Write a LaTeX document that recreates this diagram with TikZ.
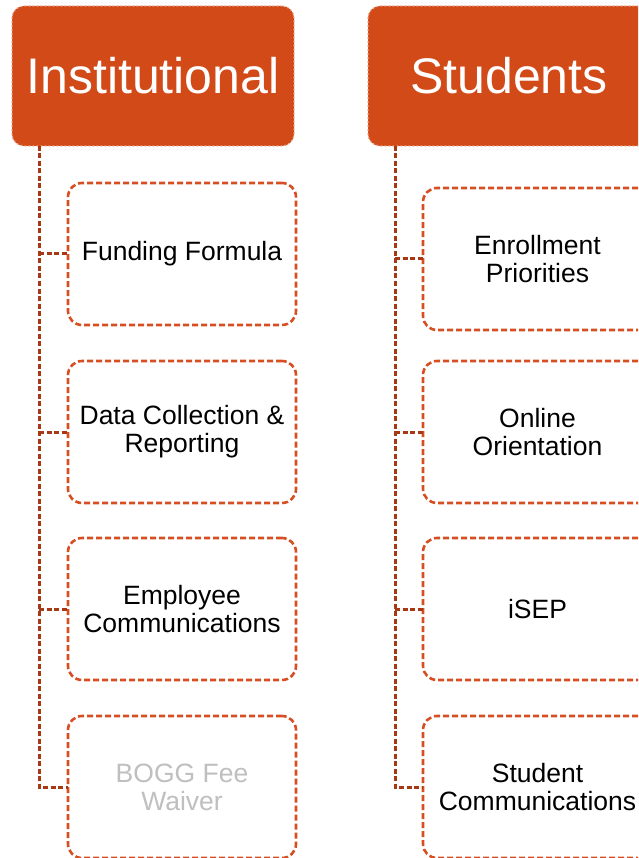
\documentclass[tikz,border=0pt]{standalone}
\usepackage{fontspec}
\setmainfont{Liberation Sans}
\definecolor{hdrfill}{RGB}{210,74,24}
\definecolor{boxline}{RGB}{214,78,34}
\definecolor{connline}{RGB}{168,56,20}
\definecolor{hdrborder}{RGB}{236,170,140}
\definecolor{fadedtext}{RGB}{191,191,191}
\begin{document}
\begin{tikzpicture}[x=1pt,y=-1pt,
  header/.style={fill=hdrfill, draw=hdrborder, line width=1.2pt, dash pattern=on 1.5pt off 2.5pt,
    rounded corners=12pt, minimum width=282pt, minimum height=140pt, inner sep=0pt, outer sep=0pt,
    text=white, font=\fontsize{50}{56}\selectfont},
  item/.style={draw=boxline, line width=2.6pt, dash pattern=on 6pt off 3pt, fill=white,
    rounded corners=14pt, minimum height=142pt, inner sep=0pt, outer sep=0pt,
    align=center, font=\fontsize{26.5}{28}\selectfont},
  conn/.style={draw=connline, line width=3pt, dash pattern=on 5pt off 2.5pt}
]
\useasboundingbox (0,0) rectangle (638,858);
\clip (0,0) rectangle (638,858);
% headers
\node[header] (hl) at (153,76) {Institutional};
\node[header] (hr) at (509,76) {Students};
% left items
\node[item, minimum width=228pt] (l1) at (182,254) {Funding Formula};
\node[item, minimum width=228pt] (l2) at (182,432) {Data Collection \&\\Reporting};
\node[item, minimum width=228pt] (l3) at (182,609) {Employee\\Communications};
\node[item, minimum width=228pt, text=fadedtext] (l4) at (182,787) {BOGG Fee\\Waiver};
% right items
\node[item, minimum width=229pt] (r1) at (537.5,259) {Enrollment\\Priorities};
\node[item, minimum width=229pt] (r2) at (537.5,432) {Online\\Orientation};
\node[item, minimum width=229pt] (r3) at (537.5,609) {iSEP};
\node[item, minimum width=229pt] (r4) at (537.5,787) {Student\\Communications};
% trunks
\coordinate (tl) at ([xshift=27pt]hl.south west);
\coordinate (tr) at ([xshift=27pt]hr.south west);
\draw[conn] (tl) |- (l4.west);
\draw[conn] (tl |- l1.west) -- (l1.west);
\draw[conn] (tl |- l2.west) -- (l2.west);
\draw[conn] (tl |- l3.west) -- (l3.west);
\draw[conn] (tr) |- (r4.west);
\draw[conn] (tr |- r1.west) -- (r1.west);
\draw[conn] (tr |- r2.west) -- (r2.west);
\draw[conn] (tr |- r3.west) -- (r3.west);
\end{tikzpicture}
\end{document}
